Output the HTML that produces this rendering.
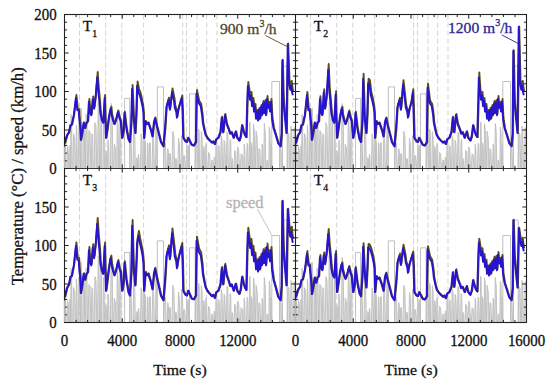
<!DOCTYPE html>
<html><head><meta charset="utf-8"><style>
html,body{margin:0;padding:0;background:#fff;width:550px;height:387px;overflow:hidden}
svg{display:block}
text{font-family:"Liberation Serif",serif;stroke-width:0.3px;paint-order:stroke}
</style></head><body>
<svg width="550" height="387" viewBox="0 0 550 387" font-family="Liberation Serif, serif">
<path d="M64.5 168.5 L64.5 168.5 L65.0 143.9 L65.7 148.5 L66.2 168.5 L67.1 168.5 L67.1 168.5 L67.6 146.3 L68.3 150.5 L68.8 168.5 L69.6 168.5 L69.6 168.5 L69.9 145.4 L70.2 146.2 L70.5 168.5 L70.9 168.5 L70.5 168.5 L71.0 114.4 L71.6 118.9 L72.1 168.5 L72.8 168.5 L72.8 168.5 L73.6 133.7 L74.7 138.6 L75.5 168.5 L76.0 168.5 L76.0 168.5 L76.4 125.0 L76.9 132.1 L77.3 168.5 L78.2 168.5 L78.2 168.5 L78.9 122.8 L79.8 131.4 L80.5 168.5 L80.8 168.5 L80.5 168.5 L81.0 108.1 L81.6 116.4 L82.0 168.5 L82.9 168.5 L82.9 168.5 L83.5 123.3 L84.3 126.0 L84.8 168.5 L85.4 168.5 L85.4 168.5 L86.0 114.3 L86.9 117.2 L87.5 168.5 L88.1 168.5 L88.1 168.5 L88.9 130.5 L90.0 132.4 L90.9 168.5 L91.3 168.5 L91.3 168.5 L91.9 133.7 L92.7 135.3 L93.3 168.5 L94.2 168.5 L94.2 168.5 L94.9 122.7 L96.0 126.4 L96.8 168.5 L97.6 168.5 L97.6 168.5 L98.2 101.7 L99.0 108.7 L99.6 168.5 L100.5 168.5 L100.5 168.5 L100.9 110.2 L101.4 110.3 L101.8 168.5 L102.9 168.5 L102.9 168.5 L103.4 123.4 L104.1 132.2 L104.6 168.5 L105.3 168.5 L105.3 168.5 L105.8 150.5 L106.4 153.6 L106.8 168.5 L107.4 168.5 L107.4 168.5 L107.9 140.1 L108.6 142.7 L109.2 168.5 L110.4 168.5 L110.4 168.5 L111.1 103.5 L112.1 111.1 L112.9 168.5 L113.5 168.5 L113.5 168.5 L114.3 144.2 L115.4 147.9 L116.1 168.5 L116.7 168.5 L116.7 168.5 L117.3 114.9 L118.1 125.6 L118.7 168.5 L119.4 168.5 L119.4 168.5 L119.9 115.8 L120.6 119.1 L121.2 168.5 L122.0 168.5 L129.6 168.5 L130.3 137.5 L131.1 138.9 L131.8 168.5 L133.0 168.5 L133.0 168.5 L133.7 124.7 L134.7 132.6 L135.4 168.5 L136.4 168.5 L136.4 168.5 L136.8 157.5 L137.3 158.9 L137.7 168.5 L138.0 168.5 L138.0 168.5 L138.4 154.3 L138.9 157.0 L139.2 168.5 L140.4 168.5 L140.4 168.5 L141.1 133.8 L141.9 138.4 L142.6 168.5 L143.2 168.5 L143.2 168.5 L143.6 107.6 L144.1 114.1 L144.5 168.5 L145.3 168.5 L144.5 168.5 L144.9 140.2 L145.4 144.3 L145.8 168.5 L147.0 168.5 L147.0 168.5 L147.4 142.8 L148.0 145.2 L148.4 168.5 L148.9 168.5 L148.9 168.5 L149.5 142.7 L150.3 142.8 L150.9 168.5 L152.1 168.5 L152.1 168.5 L152.8 134.9 L153.7 140.5 L154.4 168.5 L155.5 168.5 L155.5 168.5 L156.0 117.6 L156.8 125.5 L157.3 168.5 L158.4 168.5 L163.5 168.5 L164.3 142.2 L165.4 143.2 L166.3 168.5 L167.3 168.5 L167.3 168.5 L167.8 148.6 L168.4 152.5 L168.9 168.5 L169.2 168.5 L169.2 168.5 L169.7 153.6 L170.4 153.7 L170.9 168.5 L171.6 168.5 L172.0 168.5 L172.8 131.3 L173.9 136.1 L174.7 168.5 L175.2 168.5 L175.2 168.5 L175.7 158.4 L176.3 158.6 L176.8 168.5 L177.9 168.5 L177.9 168.5 L178.5 138.3 L179.3 143.8 L179.9 168.5 L180.9 168.5 L180.9 168.5 L181.5 135.6 L182.4 139.0 L183.0 168.5 L183.5 168.5 L183.0 168.5 L183.7 155.8 L184.7 155.8 L185.5 168.5 L186.2 168.5 L186.2 168.5 L186.7 144.5 L187.4 148.5 L188.0 168.5 L188.4 168.5 L188.4 168.5 L188.7 145.3 L189.2 149.3 L189.5 168.5 L190.6 168.5 L195.1 168.5 L195.9 136.6 L197.0 139.4 L197.9 168.5 L198.3 168.5 L198.3 168.5 L198.7 129.3 L199.2 133.0 L199.5 168.5 L200.8 168.5 L200.8 168.5 L201.3 131.6 L202.1 137.4 L202.6 168.5 L203.2 168.5 L203.2 168.5 L203.7 146.3 L204.4 149.6 L204.9 168.5 L205.6 168.5 L205.5 168.5 L205.9 143.5 L206.5 146.2 L206.9 168.5 L207.8 168.5 L207.8 168.5 L208.6 152.5 L209.6 154.1 L210.4 168.5 L211.3 168.5 L211.3 168.5 L211.9 159.8 L212.7 161.3 L213.3 168.5 L213.6 168.5 L213.6 168.5 L214.2 157.0 L214.9 157.7 L215.5 168.5 L216.4 168.5 L215.5 168.5 L216.0 140.3 L216.7 141.5 L217.2 168.5 L217.6 168.5 L217.6 168.5 L218.3 145.5 L219.1 146.5 L219.7 168.5 L220.5 168.5 L220.5 168.5 L221.2 135.7 L222.0 139.3 L222.6 168.5 L223.5 168.5 L223.5 168.5 L224.1 140.4 L224.9 143.5 L225.6 168.5 L226.4 168.5 L226.4 168.5 L227.0 132.2 L227.8 133.1 L228.4 168.5 L229.6 168.5 L229.6 168.5 L230.1 139.5 L230.7 140.4 L231.2 168.5 L231.6 168.5 L231.6 168.5 L232.1 158.5 L232.6 160.4 L233.0 168.5 L234.0 168.5 L234.0 168.5 L234.7 150.2 L235.7 151.5 L236.5 168.5 L236.9 168.5 L236.9 168.5 L237.7 146.9 L238.7 149.5 L239.5 168.5 L240.3 168.5 L240.3 168.5 L241.1 153.8 L242.3 155.2 L243.1 168.5 L243.7 168.5 L243.7 168.5 L244.2 144.1 L244.8 148.9 L245.2 168.5 L246.1 168.5 L246.5 168.5 L247.1 143.2 L247.8 145.1 L248.4 168.5 L249.2 168.5 L249.2 168.5 L249.6 122.3 L250.1 122.5 L250.5 168.5 L250.9 168.5 L250.9 168.5 L251.4 142.7 L252.1 146.5 L252.5 168.5 L253.0 168.5 L253.0 168.5 L253.5 123.8 L254.3 130.5 L254.9 168.5 L255.3 168.5 L255.3 168.5 L256.1 131.2 L257.2 138.0 L258.0 168.5 L258.3 168.5 L258.3 168.5 L259.0 148.6 L259.9 150.1 L260.6 168.5 L261.7 168.5 L261.7 168.5 L262.1 144.2 L262.7 146.9 L263.1 168.5 L263.7 168.5 L263.7 168.5 L264.3 123.5 L265.2 131.4 L265.8 168.5 L266.6 168.5 L266.6 168.5 L267.1 159.9 L267.7 161.3 L268.2 168.5 L268.8 168.5 L268.8 168.5 L269.3 127.1 L270.0 131.3 L270.5 168.5 L271.0 168.5 L271.0 168.5 L271.2 143.2 L271.6 148.1 L271.8 168.5 L272.8 168.5 L279.5 168.5 L280.1 147.1 L281.0 147.4 L281.6 168.5 L282.0 168.5 L287.2 168.5 L288.0 132.8 L289.0 134.0 L289.7 168.5 L290.4 168.5 L290.4 168.5 L291.0 126.4 L291.8 131.9 L292.4 168.5 L293.5 168.5 L293.5 168.5 L294.1 127.7 L294.9 133.0 L295.5 168.5 L295.9 168.5" fill="#dcdcdc" stroke="#bdbdbd" stroke-width="0.9" stroke-linejoin="round"/>
<path d="M124.6 168.5V98.4H129.6V168.5 M157.3 168.5V86.9H163.5V168.5 M189.5 168.5V93.8H195.1V168.5 M271.8 168.5V81.5H279.5V168.5 M282.5 168.5V66.1H287.2V168.5" fill="none" stroke="#c0c0c0" stroke-width="1"/>
<path d="M295.5 168.5 L295.5 168.5 L296.0 143.9 L296.7 148.5 L297.2 168.5 L298.1 168.5 L298.1 168.5 L298.6 146.3 L299.3 150.5 L299.8 168.5 L300.6 168.5 L300.6 168.5 L300.9 145.4 L301.2 146.2 L301.5 168.5 L301.9 168.5 L301.5 168.5 L302.0 114.4 L302.6 118.9 L303.1 168.5 L303.8 168.5 L303.8 168.5 L304.6 133.7 L305.7 138.6 L306.5 168.5 L307.0 168.5 L307.0 168.5 L307.4 125.0 L307.9 132.1 L308.3 168.5 L309.2 168.5 L309.2 168.5 L309.9 122.8 L310.8 131.4 L311.5 168.5 L311.8 168.5 L311.5 168.5 L312.0 108.1 L312.6 116.4 L313.0 168.5 L313.9 168.5 L313.9 168.5 L314.5 123.3 L315.3 126.0 L315.8 168.5 L316.4 168.5 L316.4 168.5 L317.0 114.3 L317.9 117.2 L318.5 168.5 L319.1 168.5 L319.1 168.5 L319.9 130.5 L321.0 132.4 L321.9 168.5 L322.3 168.5 L322.3 168.5 L322.9 133.7 L323.7 135.3 L324.3 168.5 L325.2 168.5 L325.2 168.5 L325.9 122.7 L327.0 126.4 L327.8 168.5 L328.6 168.5 L328.6 168.5 L329.2 101.7 L330.0 108.7 L330.6 168.5 L331.5 168.5 L331.5 168.5 L331.9 110.2 L332.4 110.3 L332.8 168.5 L333.9 168.5 L333.9 168.5 L334.4 123.4 L335.1 132.2 L335.6 168.5 L336.3 168.5 L336.3 168.5 L336.8 150.5 L337.4 153.6 L337.8 168.5 L338.4 168.5 L338.4 168.5 L338.9 140.1 L339.6 142.7 L340.2 168.5 L341.4 168.5 L341.4 168.5 L342.1 103.5 L343.1 111.1 L343.9 168.5 L344.5 168.5 L344.5 168.5 L345.3 144.2 L346.4 147.9 L347.1 168.5 L347.7 168.5 L347.7 168.5 L348.3 114.9 L349.1 125.6 L349.7 168.5 L350.4 168.5 L350.4 168.5 L350.9 115.8 L351.6 119.1 L352.2 168.5 L353.0 168.5 L360.6 168.5 L361.3 137.5 L362.1 138.9 L362.8 168.5 L364.0 168.5 L364.0 168.5 L364.7 124.7 L365.7 132.6 L366.4 168.5 L367.4 168.5 L367.4 168.5 L367.8 157.5 L368.3 158.9 L368.7 168.5 L369.0 168.5 L369.0 168.5 L369.4 154.3 L369.9 157.0 L370.2 168.5 L371.4 168.5 L371.4 168.5 L372.1 133.8 L372.9 138.4 L373.6 168.5 L374.2 168.5 L374.2 168.5 L374.6 107.6 L375.1 114.1 L375.5 168.5 L376.3 168.5 L375.5 168.5 L375.9 140.2 L376.4 144.3 L376.8 168.5 L378.0 168.5 L378.0 168.5 L378.4 142.8 L379.0 145.2 L379.4 168.5 L379.9 168.5 L379.9 168.5 L380.5 142.7 L381.3 142.8 L381.9 168.5 L383.1 168.5 L383.1 168.5 L383.8 134.9 L384.7 140.5 L385.4 168.5 L386.5 168.5 L386.5 168.5 L387.0 117.6 L387.8 125.5 L388.3 168.5 L389.4 168.5 L394.5 168.5 L395.3 142.2 L396.4 143.2 L397.3 168.5 L398.3 168.5 L398.3 168.5 L398.8 148.6 L399.4 152.5 L399.9 168.5 L400.2 168.5 L400.2 168.5 L400.7 153.6 L401.4 153.7 L401.9 168.5 L402.6 168.5 L403.0 168.5 L403.8 131.3 L404.9 136.1 L405.7 168.5 L406.2 168.5 L406.2 168.5 L406.7 158.4 L407.3 158.6 L407.8 168.5 L408.9 168.5 L408.9 168.5 L409.5 138.3 L410.3 143.8 L410.9 168.5 L411.9 168.5 L411.9 168.5 L412.5 135.6 L413.4 139.0 L414.0 168.5 L414.5 168.5 L414.0 168.5 L414.7 155.8 L415.7 155.8 L416.5 168.5 L417.2 168.5 L417.2 168.5 L417.7 144.5 L418.4 148.5 L419.0 168.5 L419.4 168.5 L419.4 168.5 L419.7 145.3 L420.2 149.3 L420.5 168.5 L421.6 168.5 L426.1 168.5 L426.9 136.6 L428.0 139.4 L428.9 168.5 L429.3 168.5 L429.3 168.5 L429.7 129.3 L430.2 133.0 L430.5 168.5 L431.8 168.5 L431.8 168.5 L432.3 131.6 L433.1 137.4 L433.6 168.5 L434.2 168.5 L434.2 168.5 L434.7 146.3 L435.4 149.6 L435.9 168.5 L436.6 168.5 L436.5 168.5 L436.9 143.5 L437.5 146.2 L437.9 168.5 L438.8 168.5 L438.8 168.5 L439.6 152.5 L440.6 154.1 L441.4 168.5 L442.3 168.5 L442.3 168.5 L442.9 159.8 L443.7 161.3 L444.3 168.5 L444.6 168.5 L444.6 168.5 L445.2 157.0 L445.9 157.7 L446.5 168.5 L447.4 168.5 L446.5 168.5 L447.0 140.3 L447.7 141.5 L448.2 168.5 L448.6 168.5 L448.6 168.5 L449.3 145.5 L450.1 146.5 L450.7 168.5 L451.5 168.5 L451.5 168.5 L452.2 135.7 L453.0 139.3 L453.6 168.5 L454.5 168.5 L454.5 168.5 L455.1 140.4 L455.9 143.5 L456.6 168.5 L457.4 168.5 L457.4 168.5 L458.0 132.2 L458.8 133.1 L459.4 168.5 L460.6 168.5 L460.6 168.5 L461.1 139.5 L461.7 140.4 L462.2 168.5 L462.6 168.5 L462.6 168.5 L463.1 158.5 L463.6 160.4 L464.0 168.5 L465.0 168.5 L465.0 168.5 L465.7 150.2 L466.7 151.5 L467.5 168.5 L467.9 168.5 L467.9 168.5 L468.7 146.9 L469.7 149.5 L470.5 168.5 L471.3 168.5 L471.3 168.5 L472.1 153.8 L473.3 155.2 L474.1 168.5 L474.7 168.5 L474.7 168.5 L475.2 144.1 L475.8 148.9 L476.2 168.5 L477.1 168.5 L477.5 168.5 L478.1 143.2 L478.8 145.1 L479.4 168.5 L480.2 168.5 L480.2 168.5 L480.6 122.3 L481.1 122.5 L481.5 168.5 L481.9 168.5 L481.9 168.5 L482.4 142.7 L483.1 146.5 L483.5 168.5 L484.0 168.5 L484.0 168.5 L484.5 123.8 L485.3 130.5 L485.9 168.5 L486.3 168.5 L486.3 168.5 L487.1 131.2 L488.2 138.0 L489.0 168.5 L489.3 168.5 L489.3 168.5 L490.0 148.6 L490.9 150.1 L491.6 168.5 L492.7 168.5 L492.7 168.5 L493.1 144.2 L493.7 146.9 L494.1 168.5 L494.7 168.5 L494.7 168.5 L495.3 123.5 L496.2 131.4 L496.8 168.5 L497.6 168.5 L497.6 168.5 L498.1 159.9 L498.7 161.3 L499.2 168.5 L499.8 168.5 L499.8 168.5 L500.3 127.1 L501.0 131.3 L501.5 168.5 L502.0 168.5 L502.0 168.5 L502.2 143.2 L502.6 148.1 L502.8 168.5 L503.8 168.5 L510.5 168.5 L511.1 147.1 L512.0 147.4 L512.6 168.5 L513.0 168.5 L518.2 168.5 L519.0 132.8 L520.0 134.0 L520.7 168.5 L521.4 168.5 L521.4 168.5 L522.0 126.4 L522.8 131.9 L523.4 168.5 L524.5 168.5 L524.5 168.5 L525.1 127.7 L525.9 133.0 L526.5 168.5 L526.9 168.5" fill="#dcdcdc" stroke="#bdbdbd" stroke-width="0.9" stroke-linejoin="round"/>
<path d="M355.6 168.5V98.4H360.6V168.5 M388.3 168.5V86.9H394.5V168.5 M420.5 168.5V93.8H426.1V168.5 M502.8 168.5V81.5H510.5V168.5 M513.5 168.5V66.1H518.2V168.5" fill="none" stroke="#c0c0c0" stroke-width="1"/>
<path d="M64.5 322.5 L64.5 322.5 L65.0 297.9 L65.7 302.5 L66.2 322.5 L67.1 322.5 L67.1 322.5 L67.6 300.3 L68.3 304.5 L68.8 322.5 L69.6 322.5 L69.6 322.5 L69.9 299.4 L70.2 300.2 L70.5 322.5 L70.9 322.5 L70.5 322.5 L71.0 268.4 L71.6 272.9 L72.1 322.5 L72.8 322.5 L72.8 322.5 L73.6 287.7 L74.7 292.6 L75.5 322.5 L76.0 322.5 L76.0 322.5 L76.4 279.0 L76.9 286.1 L77.3 322.5 L78.2 322.5 L78.2 322.5 L78.9 276.8 L79.8 285.4 L80.5 322.5 L80.8 322.5 L80.5 322.5 L81.0 262.1 L81.6 270.4 L82.0 322.5 L82.9 322.5 L82.9 322.5 L83.5 277.3 L84.3 280.0 L84.8 322.5 L85.4 322.5 L85.4 322.5 L86.0 268.3 L86.9 271.2 L87.5 322.5 L88.1 322.5 L88.1 322.5 L88.9 284.5 L90.0 286.4 L90.9 322.5 L91.3 322.5 L91.3 322.5 L91.9 287.7 L92.7 289.3 L93.3 322.5 L94.2 322.5 L94.2 322.5 L94.9 276.7 L96.0 280.4 L96.8 322.5 L97.6 322.5 L97.6 322.5 L98.2 255.7 L99.0 262.7 L99.6 322.5 L100.5 322.5 L100.5 322.5 L100.9 264.2 L101.4 264.3 L101.8 322.5 L102.9 322.5 L102.9 322.5 L103.4 277.4 L104.1 286.2 L104.6 322.5 L105.3 322.5 L105.3 322.5 L105.8 304.5 L106.4 307.6 L106.8 322.5 L107.4 322.5 L107.4 322.5 L107.9 294.1 L108.6 296.7 L109.2 322.5 L110.4 322.5 L110.4 322.5 L111.1 257.5 L112.1 265.1 L112.9 322.5 L113.5 322.5 L113.5 322.5 L114.3 298.2 L115.4 301.9 L116.1 322.5 L116.7 322.5 L116.7 322.5 L117.3 268.9 L118.1 279.6 L118.7 322.5 L119.4 322.5 L119.4 322.5 L119.9 269.8 L120.6 273.1 L121.2 322.5 L122.0 322.5 L129.6 322.5 L130.3 291.5 L131.1 292.9 L131.8 322.5 L133.0 322.5 L133.0 322.5 L133.7 278.7 L134.7 286.6 L135.4 322.5 L136.4 322.5 L136.4 322.5 L136.8 311.5 L137.3 312.9 L137.7 322.5 L138.0 322.5 L138.0 322.5 L138.4 308.3 L138.9 311.0 L139.2 322.5 L140.4 322.5 L140.4 322.5 L141.1 287.8 L141.9 292.4 L142.6 322.5 L143.2 322.5 L143.2 322.5 L143.6 261.6 L144.1 268.1 L144.5 322.5 L145.3 322.5 L144.5 322.5 L144.9 294.2 L145.4 298.3 L145.8 322.5 L147.0 322.5 L147.0 322.5 L147.4 296.8 L148.0 299.2 L148.4 322.5 L148.9 322.5 L148.9 322.5 L149.5 296.7 L150.3 296.8 L150.9 322.5 L152.1 322.5 L152.1 322.5 L152.8 288.9 L153.7 294.5 L154.4 322.5 L155.5 322.5 L155.5 322.5 L156.0 271.6 L156.8 279.5 L157.3 322.5 L158.4 322.5 L163.5 322.5 L164.3 296.2 L165.4 297.2 L166.3 322.5 L167.3 322.5 L167.3 322.5 L167.8 302.6 L168.4 306.5 L168.9 322.5 L169.2 322.5 L169.2 322.5 L169.7 307.6 L170.4 307.7 L170.9 322.5 L171.6 322.5 L172.0 322.5 L172.8 285.3 L173.9 290.1 L174.7 322.5 L175.2 322.5 L175.2 322.5 L175.7 312.4 L176.3 312.6 L176.8 322.5 L177.9 322.5 L177.9 322.5 L178.5 292.3 L179.3 297.8 L179.9 322.5 L180.9 322.5 L180.9 322.5 L181.5 289.6 L182.4 293.0 L183.0 322.5 L183.5 322.5 L183.0 322.5 L183.7 309.8 L184.7 309.8 L185.5 322.5 L186.2 322.5 L186.2 322.5 L186.7 298.5 L187.4 302.5 L188.0 322.5 L188.4 322.5 L188.4 322.5 L188.7 299.3 L189.2 303.3 L189.5 322.5 L190.6 322.5 L195.1 322.5 L195.9 290.6 L197.0 293.4 L197.9 322.5 L198.3 322.5 L198.3 322.5 L198.7 283.3 L199.2 287.0 L199.5 322.5 L200.8 322.5 L200.8 322.5 L201.3 285.6 L202.1 291.4 L202.6 322.5 L203.2 322.5 L203.2 322.5 L203.7 300.3 L204.4 303.6 L204.9 322.5 L205.6 322.5 L205.5 322.5 L205.9 297.5 L206.5 300.2 L206.9 322.5 L207.8 322.5 L207.8 322.5 L208.6 306.5 L209.6 308.1 L210.4 322.5 L211.3 322.5 L211.3 322.5 L211.9 313.8 L212.7 315.3 L213.3 322.5 L213.6 322.5 L213.6 322.5 L214.2 311.0 L214.9 311.7 L215.5 322.5 L216.4 322.5 L215.5 322.5 L216.0 294.3 L216.7 295.5 L217.2 322.5 L217.6 322.5 L217.6 322.5 L218.3 299.5 L219.1 300.5 L219.7 322.5 L220.5 322.5 L220.5 322.5 L221.2 289.7 L222.0 293.3 L222.6 322.5 L223.5 322.5 L223.5 322.5 L224.1 294.4 L224.9 297.5 L225.6 322.5 L226.4 322.5 L226.4 322.5 L227.0 286.2 L227.8 287.1 L228.4 322.5 L229.6 322.5 L229.6 322.5 L230.1 293.5 L230.7 294.4 L231.2 322.5 L231.6 322.5 L231.6 322.5 L232.1 312.5 L232.6 314.4 L233.0 322.5 L234.0 322.5 L234.0 322.5 L234.7 304.2 L235.7 305.5 L236.5 322.5 L236.9 322.5 L236.9 322.5 L237.7 300.9 L238.7 303.5 L239.5 322.5 L240.3 322.5 L240.3 322.5 L241.1 307.8 L242.3 309.2 L243.1 322.5 L243.7 322.5 L243.7 322.5 L244.2 298.1 L244.8 302.9 L245.2 322.5 L246.1 322.5 L246.5 322.5 L247.1 297.2 L247.8 299.1 L248.4 322.5 L249.2 322.5 L249.2 322.5 L249.6 276.3 L250.1 276.5 L250.5 322.5 L250.9 322.5 L250.9 322.5 L251.4 296.7 L252.1 300.5 L252.5 322.5 L253.0 322.5 L253.0 322.5 L253.5 277.8 L254.3 284.5 L254.9 322.5 L255.3 322.5 L255.3 322.5 L256.1 285.2 L257.2 292.0 L258.0 322.5 L258.3 322.5 L258.3 322.5 L259.0 302.6 L259.9 304.1 L260.6 322.5 L261.7 322.5 L261.7 322.5 L262.1 298.2 L262.7 300.9 L263.1 322.5 L263.7 322.5 L263.7 322.5 L264.3 277.5 L265.2 285.4 L265.8 322.5 L266.6 322.5 L266.6 322.5 L267.1 313.9 L267.7 315.3 L268.2 322.5 L268.8 322.5 L268.8 322.5 L269.3 281.1 L270.0 285.3 L270.5 322.5 L271.0 322.5 L271.0 322.5 L271.2 297.2 L271.6 302.1 L271.8 322.5 L272.8 322.5 L279.5 322.5 L280.1 301.1 L281.0 301.4 L281.6 322.5 L282.0 322.5 L287.2 322.5 L288.0 286.8 L289.0 288.0 L289.7 322.5 L290.4 322.5 L290.4 322.5 L291.0 280.4 L291.8 285.9 L292.4 322.5 L293.5 322.5 L293.5 322.5 L294.1 281.7 L294.9 287.0 L295.5 322.5 L295.9 322.5" fill="#dcdcdc" stroke="#bdbdbd" stroke-width="0.9" stroke-linejoin="round"/>
<path d="M124.6 322.5V252.4H129.6V322.5 M157.3 322.5V240.9H163.5V322.5 M189.5 322.5V247.8H195.1V322.5 M271.8 322.5V235.5H279.5V322.5 M282.5 322.5V220.1H287.2V322.5" fill="none" stroke="#c0c0c0" stroke-width="1"/>
<path d="M295.5 322.5 L295.5 322.5 L296.0 297.9 L296.7 302.5 L297.2 322.5 L298.1 322.5 L298.1 322.5 L298.6 300.3 L299.3 304.5 L299.8 322.5 L300.6 322.5 L300.6 322.5 L300.9 299.4 L301.2 300.2 L301.5 322.5 L301.9 322.5 L301.5 322.5 L302.0 268.4 L302.6 272.9 L303.1 322.5 L303.8 322.5 L303.8 322.5 L304.6 287.7 L305.7 292.6 L306.5 322.5 L307.0 322.5 L307.0 322.5 L307.4 279.0 L307.9 286.1 L308.3 322.5 L309.2 322.5 L309.2 322.5 L309.9 276.8 L310.8 285.4 L311.5 322.5 L311.8 322.5 L311.5 322.5 L312.0 262.1 L312.6 270.4 L313.0 322.5 L313.9 322.5 L313.9 322.5 L314.5 277.3 L315.3 280.0 L315.8 322.5 L316.4 322.5 L316.4 322.5 L317.0 268.3 L317.9 271.2 L318.5 322.5 L319.1 322.5 L319.1 322.5 L319.9 284.5 L321.0 286.4 L321.9 322.5 L322.3 322.5 L322.3 322.5 L322.9 287.7 L323.7 289.3 L324.3 322.5 L325.2 322.5 L325.2 322.5 L325.9 276.7 L327.0 280.4 L327.8 322.5 L328.6 322.5 L328.6 322.5 L329.2 255.7 L330.0 262.7 L330.6 322.5 L331.5 322.5 L331.5 322.5 L331.9 264.2 L332.4 264.3 L332.8 322.5 L333.9 322.5 L333.9 322.5 L334.4 277.4 L335.1 286.2 L335.6 322.5 L336.3 322.5 L336.3 322.5 L336.8 304.5 L337.4 307.6 L337.8 322.5 L338.4 322.5 L338.4 322.5 L338.9 294.1 L339.6 296.7 L340.2 322.5 L341.4 322.5 L341.4 322.5 L342.1 257.5 L343.1 265.1 L343.9 322.5 L344.5 322.5 L344.5 322.5 L345.3 298.2 L346.4 301.9 L347.1 322.5 L347.7 322.5 L347.7 322.5 L348.3 268.9 L349.1 279.6 L349.7 322.5 L350.4 322.5 L350.4 322.5 L350.9 269.8 L351.6 273.1 L352.2 322.5 L353.0 322.5 L360.6 322.5 L361.3 291.5 L362.1 292.9 L362.8 322.5 L364.0 322.5 L364.0 322.5 L364.7 278.7 L365.7 286.6 L366.4 322.5 L367.4 322.5 L367.4 322.5 L367.8 311.5 L368.3 312.9 L368.7 322.5 L369.0 322.5 L369.0 322.5 L369.4 308.3 L369.9 311.0 L370.2 322.5 L371.4 322.5 L371.4 322.5 L372.1 287.8 L372.9 292.4 L373.6 322.5 L374.2 322.5 L374.2 322.5 L374.6 261.6 L375.1 268.1 L375.5 322.5 L376.3 322.5 L375.5 322.5 L375.9 294.2 L376.4 298.3 L376.8 322.5 L378.0 322.5 L378.0 322.5 L378.4 296.8 L379.0 299.2 L379.4 322.5 L379.9 322.5 L379.9 322.5 L380.5 296.7 L381.3 296.8 L381.9 322.5 L383.1 322.5 L383.1 322.5 L383.8 288.9 L384.7 294.5 L385.4 322.5 L386.5 322.5 L386.5 322.5 L387.0 271.6 L387.8 279.5 L388.3 322.5 L389.4 322.5 L394.5 322.5 L395.3 296.2 L396.4 297.2 L397.3 322.5 L398.3 322.5 L398.3 322.5 L398.8 302.6 L399.4 306.5 L399.9 322.5 L400.2 322.5 L400.2 322.5 L400.7 307.6 L401.4 307.7 L401.9 322.5 L402.6 322.5 L403.0 322.5 L403.8 285.3 L404.9 290.1 L405.7 322.5 L406.2 322.5 L406.2 322.5 L406.7 312.4 L407.3 312.6 L407.8 322.5 L408.9 322.5 L408.9 322.5 L409.5 292.3 L410.3 297.8 L410.9 322.5 L411.9 322.5 L411.9 322.5 L412.5 289.6 L413.4 293.0 L414.0 322.5 L414.5 322.5 L414.0 322.5 L414.7 309.8 L415.7 309.8 L416.5 322.5 L417.2 322.5 L417.2 322.5 L417.7 298.5 L418.4 302.5 L419.0 322.5 L419.4 322.5 L419.4 322.5 L419.7 299.3 L420.2 303.3 L420.5 322.5 L421.6 322.5 L426.1 322.5 L426.9 290.6 L428.0 293.4 L428.9 322.5 L429.3 322.5 L429.3 322.5 L429.7 283.3 L430.2 287.0 L430.5 322.5 L431.8 322.5 L431.8 322.5 L432.3 285.6 L433.1 291.4 L433.6 322.5 L434.2 322.5 L434.2 322.5 L434.7 300.3 L435.4 303.6 L435.9 322.5 L436.6 322.5 L436.5 322.5 L436.9 297.5 L437.5 300.2 L437.9 322.5 L438.8 322.5 L438.8 322.5 L439.6 306.5 L440.6 308.1 L441.4 322.5 L442.3 322.5 L442.3 322.5 L442.9 313.8 L443.7 315.3 L444.3 322.5 L444.6 322.5 L444.6 322.5 L445.2 311.0 L445.9 311.7 L446.5 322.5 L447.4 322.5 L446.5 322.5 L447.0 294.3 L447.7 295.5 L448.2 322.5 L448.6 322.5 L448.6 322.5 L449.3 299.5 L450.1 300.5 L450.7 322.5 L451.5 322.5 L451.5 322.5 L452.2 289.7 L453.0 293.3 L453.6 322.5 L454.5 322.5 L454.5 322.5 L455.1 294.4 L455.9 297.5 L456.6 322.5 L457.4 322.5 L457.4 322.5 L458.0 286.2 L458.8 287.1 L459.4 322.5 L460.6 322.5 L460.6 322.5 L461.1 293.5 L461.7 294.4 L462.2 322.5 L462.6 322.5 L462.6 322.5 L463.1 312.5 L463.6 314.4 L464.0 322.5 L465.0 322.5 L465.0 322.5 L465.7 304.2 L466.7 305.5 L467.5 322.5 L467.9 322.5 L467.9 322.5 L468.7 300.9 L469.7 303.5 L470.5 322.5 L471.3 322.5 L471.3 322.5 L472.1 307.8 L473.3 309.2 L474.1 322.5 L474.7 322.5 L474.7 322.5 L475.2 298.1 L475.8 302.9 L476.2 322.5 L477.1 322.5 L477.5 322.5 L478.1 297.2 L478.8 299.1 L479.4 322.5 L480.2 322.5 L480.2 322.5 L480.6 276.3 L481.1 276.5 L481.5 322.5 L481.9 322.5 L481.9 322.5 L482.4 296.7 L483.1 300.5 L483.5 322.5 L484.0 322.5 L484.0 322.5 L484.5 277.8 L485.3 284.5 L485.9 322.5 L486.3 322.5 L486.3 322.5 L487.1 285.2 L488.2 292.0 L489.0 322.5 L489.3 322.5 L489.3 322.5 L490.0 302.6 L490.9 304.1 L491.6 322.5 L492.7 322.5 L492.7 322.5 L493.1 298.2 L493.7 300.9 L494.1 322.5 L494.7 322.5 L494.7 322.5 L495.3 277.5 L496.2 285.4 L496.8 322.5 L497.6 322.5 L497.6 322.5 L498.1 313.9 L498.7 315.3 L499.2 322.5 L499.8 322.5 L499.8 322.5 L500.3 281.1 L501.0 285.3 L501.5 322.5 L502.0 322.5 L502.0 322.5 L502.2 297.2 L502.6 302.1 L502.8 322.5 L503.8 322.5 L510.5 322.5 L511.1 301.1 L512.0 301.4 L512.6 322.5 L513.0 322.5 L518.2 322.5 L519.0 286.8 L520.0 288.0 L520.7 322.5 L521.4 322.5 L521.4 322.5 L522.0 280.4 L522.8 285.9 L523.4 322.5 L524.5 322.5 L524.5 322.5 L525.1 281.7 L525.9 287.0 L526.5 322.5 L526.9 322.5" fill="#dcdcdc" stroke="#bdbdbd" stroke-width="0.9" stroke-linejoin="round"/>
<path d="M355.6 322.5V252.4H360.6V322.5 M388.3 322.5V240.9H394.5V322.5 M420.5 322.5V247.8H426.1V322.5 M502.8 322.5V235.5H510.5V322.5 M513.5 322.5V220.1H518.2V322.5" fill="none" stroke="#c0c0c0" stroke-width="1"/>
<path d="M79.5 14.5V322.5 M105.7 14.5V322.5 M121.8 14.5V322.5 M143.6 14.5V322.5 M182.6 14.5V322.5 M186.5 14.5V322.5 M197.0 14.5V322.5 M206.7 14.5V322.5 M217.0 14.5V322.5 M310.5 14.5V322.5 M336.7 14.5V322.5 M352.8 14.5V322.5 M374.6 14.5V322.5 M413.6 14.5V322.5 M417.5 14.5V322.5 M428.0 14.5V322.5 M437.7 14.5V322.5 M448.0 14.5V322.5" stroke="#c8c8c8" stroke-width="0.8" stroke-dasharray="5 3" fill="none"/>
<path d="M65.2 143.5 L67.3 135.5 L69.4 132.2 L70.8 125.2 L72.2 124.5 L74.3 114.0 L76.4 95.0 L77.8 108.4 L79.2 109.0 L79.9 119.6 L80.6 125.2 L81.3 139.9 L82.7 132.2 L84.1 122.4 L85.5 128.0 L86.9 122.4 L88.3 121.0 L89.4 99.0 L90.4 111.2 L91.8 114.0 L93.2 96.5 L94.6 107.0 L96.0 95.0 L97.7 72.0 L98.8 88.0 L100.0 100.0 L100.9 112.6 L102.3 119.6 L103.7 122.4 L105.1 95.0 L105.8 120.0 L106.5 137.8 L107.9 128.0 L109.3 116.8 L110.7 108.4 L111.4 106.7 L112.1 114.0 L113.5 119.6 L114.9 123.8 L116.3 119.6 L118.4 110.5 L119.8 116.8 L121.2 121.0 L122.6 137.8 L124.0 130.8 L124.9 111.6 L126.8 128.0 L128.9 139.2 L130.3 142.0 L131.7 121.0 L132.6 85.0 L134.0 116.8 L135.7 133.0 L136.7 114.0 L137.6 81.5 L138.9 88.5 L140.3 92.0 L141.7 97.6 L143.1 104.6 L143.9 112.0 L144.5 137.8 L145.9 121.0 L147.3 123.8 L148.7 122.4 L150.1 126.6 L151.5 130.8 L152.9 136.4 L154.3 122.4 L155.4 117.5 L157.1 125.2 L159.2 133.6 L161.3 142.0 L163.8 146.2 L165.5 128.0 L166.9 105.0 L168.3 100.0 L169.0 97.6 L169.7 104.0 L170.4 108.0 L172.5 88.5 L174.6 99.0 L175.3 105.6 L176.7 110.0 L177.4 116.8 L178.8 108.0 L180.9 100.0 L182.3 95.5 L183.0 110.0 L183.7 137.8 L185.8 141.3 L187.2 142.0 L188.6 137.8 L190.0 140.6 L192.1 144.8 L194.2 145.5 L196.3 142.0 L197.0 89.9 L199.1 100.4 L201.2 104.0 L202.6 114.0 L203.3 122.4 L204.7 129.4 L206.1 135.0 L208.2 138.5 L210.3 140.6 L212.4 142.7 L213.8 141.3 L215.2 144.1 L216.6 139.2 L218.7 137.8 L220.8 132.2 L222.2 116.8 L223.6 132.2 L225.4 114.0 L227.1 123.8 L229.2 129.4 L230.6 133.6 L232.0 132.2 L234.1 137.8 L236.2 131.5 L237.6 137.8 L239.7 140.6 L241.1 136.4 L242.5 125.2 L243.9 130.8 L245.3 135.0 L246.7 137.1 L247.7 100.0 L248.3 82.0 L249.5 90.0 L250.5 97.0 L251.5 92.0 L252.5 104.0 L253.5 98.0 L254.5 110.0 L255.5 104.0 L256.5 118.0 L257.5 110.0 L258.5 120.0 L259.5 108.0 L260.5 118.0 L261.5 105.0 L262.5 114.0 L263.5 101.0 L264.5 112.0 L265.5 100.0 L266.5 114.0 L267.5 96.0 L268.5 106.0 L269.5 102.0 L270.5 110.0 L271.5 99.0 L272.5 118.0 L274.0 128.0 L276.3 135.3 L278.6 143.1 L280.9 146.2 L282.0 133.8 L282.8 59.8 L283.9 99.7 L286.9 133.0 L288.2 43.5 L289.5 80.0 L290.8 86.0 L291.8 81.0 L292.5 88.0 L293.3 92.0" fill="none" stroke="#5e4a1a" stroke-width="1.9" stroke-linejoin="round" />
<path d="M296.2 143.5 L298.3 135.5 L300.4 132.2 L301.8 125.2 L303.2 124.5 L305.3 114.0 L307.4 92.0 L308.8 108.4 L310.2 109.0 L310.9 119.6 L311.6 125.2 L312.3 139.9 L313.7 132.2 L315.1 122.4 L316.5 128.0 L317.9 122.4 L319.3 121.0 L320.4 96.2 L321.4 111.2 L322.8 114.0 L324.2 89.2 L325.6 107.0 L327.0 95.0 L328.7 64.0 L329.8 88.0 L331.0 100.0 L331.9 112.6 L333.3 119.6 L334.7 122.4 L336.1 91.3 L336.8 120.0 L337.5 137.8 L338.9 128.0 L340.3 116.8 L341.7 108.4 L342.4 106.7 L343.1 114.0 L344.5 119.6 L345.9 123.8 L347.3 119.6 L349.4 110.5 L350.8 116.8 L352.2 121.0 L353.6 137.8 L355.0 130.8 L355.9 111.6 L357.8 128.0 L359.9 139.2 L361.3 142.0 L362.7 121.0 L363.6 73.8 L365.0 116.8 L366.7 133.0 L367.7 114.0 L368.6 78.7 L369.9 80.1 L371.3 92.0 L372.7 97.6 L374.1 104.6 L374.9 112.0 L375.5 137.8 L376.9 121.0 L378.3 123.8 L379.7 122.4 L381.1 126.6 L382.5 130.8 L383.9 136.4 L385.3 122.4 L386.4 117.5 L388.1 125.2 L390.2 133.6 L392.3 142.0 L394.8 146.2 L396.5 128.0 L397.9 105.0 L399.3 100.0 L400.0 97.6 L400.7 104.0 L401.4 108.0 L403.5 80.1 L405.6 99.0 L406.3 105.6 L407.7 110.0 L408.4 116.8 L409.8 108.0 L411.9 100.0 L413.3 89.2 L414.0 110.0 L414.7 137.8 L416.8 141.3 L418.2 142.0 L419.6 137.8 L421.0 140.6 L423.1 144.8 L425.2 145.5 L427.3 142.0 L428.0 83.6 L430.1 100.4 L432.2 104.0 L433.6 114.0 L434.3 122.4 L435.7 129.4 L437.1 135.0 L439.2 138.5 L441.3 140.6 L443.4 142.7 L444.8 141.3 L446.2 144.1 L447.6 139.2 L449.7 137.8 L451.8 132.2 L453.2 116.8 L454.6 132.2 L456.4 114.0 L458.1 123.8 L460.2 129.4 L461.6 133.6 L463.0 132.2 L465.1 137.8 L467.2 131.5 L468.6 137.8 L470.7 140.6 L472.1 136.4 L473.5 125.2 L474.9 130.8 L476.3 135.0 L477.7 137.1 L478.7 100.0 L479.3 72.4 L480.5 90.0 L481.5 97.0 L482.5 92.0 L483.5 104.0 L484.5 98.0 L485.5 110.0 L486.5 104.0 L487.5 118.0 L488.5 110.0 L489.5 120.0 L490.5 108.0 L491.5 118.0 L492.5 105.0 L493.5 114.0 L494.5 101.0 L495.5 112.0 L496.5 100.0 L497.5 114.0 L498.5 96.0 L499.5 106.0 L500.5 102.0 L501.5 110.0 L502.5 99.0 L503.5 118.0 L505.0 128.0 L507.3 135.3 L509.6 143.1 L511.9 146.2 L513.0 133.8 L513.8 50.2 L514.9 99.7 L517.9 133.0 L519.2 26.4 L520.5 80.0 L521.8 86.0 L522.8 81.0 L523.5 88.0 L524.3 92.0" fill="none" stroke="#5e4a1a" stroke-width="1.9" stroke-linejoin="round" />
<path d="M65.2 297.2 L67.3 288.1 L69.4 284.4 L70.8 276.5 L72.2 275.7 L74.3 263.8 L76.4 242.4 L77.8 257.5 L79.2 258.2 L79.9 270.2 L80.6 276.5 L81.3 293.1 L82.7 284.4 L84.1 273.3 L85.5 279.7 L86.9 273.3 L88.3 271.8 L89.4 246.9 L90.4 260.7 L91.8 263.8 L93.2 244.1 L94.6 255.9 L96.0 242.4 L97.7 218.0 L98.8 234.5 L100.0 248.0 L100.9 262.3 L102.3 270.2 L103.7 273.3 L105.1 242.4 L105.8 270.6 L106.5 290.7 L107.9 279.7 L109.3 267.0 L110.7 257.5 L111.4 255.6 L112.1 263.8 L113.5 270.2 L114.9 274.9 L116.3 270.2 L118.4 259.9 L119.8 267.0 L121.2 271.8 L122.6 290.7 L124.0 282.8 L124.9 261.1 L126.8 279.7 L128.9 292.3 L130.3 295.5 L131.7 271.8 L132.6 220.0 L134.0 267.0 L135.7 285.3 L136.7 263.8 L137.6 239.0 L138.9 231.0 L140.3 239.0 L141.7 245.3 L143.1 253.2 L143.9 261.6 L144.5 290.7 L145.9 271.8 L147.3 274.9 L148.7 273.3 L150.1 278.1 L151.5 282.8 L152.9 289.2 L154.3 273.3 L155.4 267.8 L157.1 276.5 L159.2 286.0 L161.3 295.5 L163.8 300.2 L165.5 279.7 L166.9 253.7 L168.3 248.0 L169.0 245.3 L169.7 252.5 L170.4 257.1 L172.5 228.5 L174.6 246.9 L175.3 254.3 L176.7 259.3 L177.4 267.0 L178.8 257.1 L180.9 248.0 L182.3 242.9 L183.0 259.3 L183.7 290.7 L185.8 294.7 L187.2 295.5 L188.6 290.7 L190.0 293.9 L192.1 298.6 L194.2 299.4 L196.3 295.5 L197.0 236.6 L199.1 248.5 L201.2 252.5 L202.6 263.8 L203.3 273.3 L204.7 281.2 L206.1 287.6 L208.2 291.5 L210.3 293.9 L212.4 296.3 L213.8 294.7 L215.2 297.9 L216.6 292.3 L218.7 290.7 L220.8 284.4 L222.2 267.0 L223.6 284.4 L225.4 263.8 L227.1 274.9 L229.2 281.2 L230.6 286.0 L232.0 284.4 L234.1 290.7 L236.2 283.6 L237.6 290.7 L239.7 293.9 L241.1 289.2 L242.5 276.5 L243.9 282.8 L245.3 287.6 L246.7 289.9 L247.7 248.0 L248.3 227.7 L249.5 236.7 L250.5 244.6 L251.5 239.0 L252.5 252.5 L253.5 245.8 L254.5 259.3 L255.5 252.5 L256.5 268.4 L257.5 259.3 L258.5 270.6 L259.5 257.1 L260.5 268.4 L261.5 253.7 L262.5 263.8 L263.5 249.2 L264.5 261.6 L265.5 248.0 L266.5 263.8 L267.5 243.5 L268.5 254.8 L269.5 250.3 L270.5 259.3 L271.5 246.9 L272.5 268.4 L274.0 279.7 L276.3 287.9 L278.6 296.7 L280.9 300.2 L282.0 286.2 L282.8 200.6 L283.9 247.7 L286.9 285.3 L288.2 208.6 L289.5 225.4 L290.8 232.2 L291.8 226.6 L292.5 234.5 L293.3 239.0" fill="none" stroke="#5e4a1a" stroke-width="1.9" stroke-linejoin="round" />
<path d="M296.2 297.6 L298.3 289.9 L300.4 286.8 L301.8 280.0 L303.2 279.4 L305.3 269.3 L307.4 251.0 L308.8 263.9 L310.2 264.5 L310.9 274.7 L311.6 280.0 L312.3 294.1 L313.7 286.8 L315.1 277.3 L316.5 282.7 L317.9 277.3 L319.3 276.0 L320.4 254.9 L321.4 266.6 L322.8 269.3 L324.2 252.5 L325.6 262.6 L327.0 251.0 L328.7 229.0 L329.8 244.3 L331.0 255.8 L331.9 267.9 L333.3 274.7 L334.7 277.3 L336.1 251.0 L336.8 275.0 L337.5 292.1 L338.9 282.7 L340.3 272.0 L341.7 263.9 L342.4 262.3 L343.1 269.3 L344.5 274.7 L345.9 278.7 L347.3 274.7 L349.4 265.9 L350.8 272.0 L352.2 276.0 L353.6 292.1 L355.0 285.4 L355.9 267.0 L357.8 282.7 L359.9 293.5 L361.3 296.2 L362.7 276.0 L363.6 243.2 L365.0 272.0 L366.7 287.5 L367.7 269.3 L368.6 243.9 L369.9 244.8 L371.3 248.2 L372.7 253.5 L374.1 260.3 L374.9 267.4 L375.5 292.1 L376.9 276.0 L378.3 278.7 L379.7 277.3 L381.1 281.4 L382.5 285.4 L383.9 290.8 L385.3 277.3 L386.4 272.6 L388.1 280.0 L390.2 288.1 L392.3 296.2 L394.8 300.2 L396.5 282.7 L397.9 260.6 L399.3 255.8 L400.0 253.5 L400.7 259.7 L401.4 263.5 L403.5 244.8 L405.6 254.9 L406.3 261.2 L407.7 265.4 L408.4 272.0 L409.8 263.5 L411.9 255.8 L413.3 251.5 L414.0 265.4 L414.7 292.1 L416.8 295.5 L418.2 296.2 L419.6 292.1 L421.0 294.8 L423.1 298.8 L425.2 299.5 L427.3 296.2 L428.0 246.1 L430.1 256.2 L432.2 259.7 L433.6 269.3 L434.3 277.3 L435.7 284.1 L437.1 289.4 L439.2 292.8 L441.3 294.8 L443.4 296.8 L444.8 295.5 L446.2 298.2 L447.6 293.5 L449.7 292.1 L451.8 286.8 L453.2 272.0 L454.6 286.8 L456.4 269.3 L458.1 278.7 L460.2 284.1 L461.6 288.1 L463.0 286.8 L465.1 292.1 L467.2 286.1 L468.6 292.1 L470.7 294.8 L472.1 290.8 L473.5 280.0 L474.9 285.4 L476.3 289.4 L477.7 291.5 L478.7 255.8 L479.3 238.6 L480.5 246.2 L481.5 253.0 L482.5 248.2 L483.5 259.7 L484.5 253.9 L485.5 265.4 L486.5 259.7 L487.5 273.1 L488.5 265.4 L489.5 275.0 L490.5 263.5 L491.5 273.1 L492.5 260.6 L493.5 269.3 L494.5 256.8 L495.5 267.4 L496.5 255.8 L497.5 269.3 L498.5 252.0 L499.5 261.6 L500.5 257.8 L501.5 265.4 L502.5 254.9 L503.5 273.1 L505.0 282.7 L507.3 289.7 L509.6 297.2 L511.9 300.2 L513.0 288.3 L513.8 219.6 L514.9 255.6 L517.9 287.5 L519.2 227.6 L520.5 236.6 L521.8 242.4 L522.8 237.6 L523.5 244.3 L524.3 248.2" fill="none" stroke="#5e4a1a" stroke-width="1.9" stroke-linejoin="round" />
<path d="M64.7 143.5 L66.8 135.5 L68.9 132.2 L70.3 125.3 L71.7 124.7 L73.8 115.2 L75.9 98.0 L77.3 110.1 L78.7 110.7 L79.4 120.3 L80.1 125.3 L80.8 139.9 L82.2 132.2 L83.6 122.8 L85.0 128.0 L86.4 122.8 L87.8 121.5 L88.9 101.6 L89.9 112.7 L91.3 115.2 L92.7 99.3 L94.1 108.9 L95.5 98.0 L97.2 77.2 L98.3 91.7 L99.5 102.5 L100.4 113.9 L101.8 120.3 L103.2 122.8 L104.6 98.0 L105.3 120.6 L106.0 137.8 L107.4 128.0 L108.8 117.7 L110.2 110.1 L110.9 108.6 L111.6 115.2 L113.0 120.3 L114.4 124.1 L115.8 120.3 L117.9 112.0 L119.3 117.7 L120.7 121.5 L122.1 137.8 L123.5 130.8 L124.4 113.0 L126.3 128.0 L128.4 139.2 L129.8 142.0 L131.2 121.5 L132.1 88.9 L133.5 117.7 L135.2 133.0 L136.2 115.2 L137.1 85.8 L138.4 92.1 L139.8 95.3 L141.2 100.3 L142.6 106.7 L143.4 113.4 L144.0 137.8 L145.4 121.5 L146.8 124.1 L148.2 122.8 L149.6 126.6 L151.0 130.8 L152.4 136.4 L153.8 122.8 L154.9 118.4 L156.6 125.3 L158.7 133.6 L160.8 142.0 L163.3 146.2 L165.0 128.0 L166.4 107.0 L167.8 102.5 L168.5 100.3 L169.2 106.1 L169.9 109.8 L172.0 92.1 L174.1 101.6 L174.8 107.6 L176.2 111.6 L176.9 117.7 L178.3 109.8 L180.4 102.5 L181.8 98.4 L182.5 111.6 L183.2 137.8 L185.3 141.3 L186.7 142.0 L188.1 137.8 L189.5 140.6 L191.6 144.8 L193.7 145.5 L195.8 142.0 L196.5 93.4 L198.6 102.9 L200.7 106.1 L202.1 115.2 L202.8 122.8 L204.2 129.4 L205.6 135.0 L207.7 138.5 L209.8 140.6 L211.9 142.7 L213.3 141.3 L214.7 144.1 L216.1 139.2 L218.2 137.8 L220.3 132.2 L221.7 117.7 L223.1 132.2 L224.9 115.2 L226.6 124.1 L228.7 129.4 L230.1 133.6 L231.5 132.2 L233.6 137.8 L235.7 131.5 L237.1 137.8 L239.2 140.6 L240.6 136.4 L242.0 125.3 L243.4 130.8 L244.8 135.0 L246.2 137.1 L247.2 102.5 L247.8 86.2 L249.0 93.5 L250.0 99.8 L251.0 95.3 L252.0 106.1 L253.0 100.7 L254.0 111.6 L255.0 106.1 L256.0 118.8 L257.0 111.6 L258.0 120.6 L259.0 109.8 L260.0 118.8 L261.0 107.0 L262.0 115.2 L263.0 103.4 L264.0 113.4 L265.0 102.5 L266.0 115.2 L267.0 98.9 L268.0 107.9 L269.0 104.3 L270.0 111.6 L271.0 101.6 L272.0 118.8 L273.5 128.0 L275.8 135.3 L278.1 143.1 L280.4 146.2 L281.5 133.8 L282.3 60.4 L283.4 102.2 L286.4 133.0 L287.7 44.1 L289.0 84.4 L290.3 89.8 L291.3 85.3 L292.0 91.7 L292.8 95.3" fill="none" stroke="#2614cf" stroke-width="1.9" stroke-linejoin="round" />
<path d="M295.7 143.5 L297.8 135.5 L299.9 132.2 L301.3 125.3 L302.7 124.7 L304.8 115.2 L306.9 95.3 L308.3 110.1 L309.7 110.7 L310.4 120.3 L311.1 125.3 L311.8 139.9 L313.2 132.2 L314.6 122.8 L316.0 128.0 L317.4 122.8 L318.8 121.5 L319.9 99.1 L320.9 112.7 L322.3 115.2 L323.7 92.7 L325.1 108.9 L326.5 98.0 L328.2 69.9 L329.3 91.7 L330.5 102.5 L331.4 113.9 L332.8 120.3 L334.2 122.8 L335.6 94.6 L336.3 120.6 L337.0 137.8 L338.4 128.0 L339.8 117.7 L341.2 110.1 L341.9 108.6 L342.6 115.2 L344.0 120.3 L345.4 124.1 L346.8 120.3 L348.9 112.0 L350.3 117.7 L351.7 121.5 L353.1 137.8 L354.5 130.8 L355.4 113.0 L357.3 128.0 L359.4 139.2 L360.8 142.0 L362.2 121.5 L363.1 78.8 L364.5 117.7 L366.2 133.0 L367.2 115.2 L368.1 83.2 L369.4 84.5 L370.8 95.3 L372.2 100.3 L373.6 106.7 L374.4 113.4 L375.0 137.8 L376.4 121.5 L377.8 124.1 L379.2 122.8 L380.6 126.6 L382.0 130.8 L383.4 136.4 L384.8 122.8 L385.9 118.4 L387.6 125.3 L389.7 133.6 L391.8 142.0 L394.3 146.2 L396.0 128.0 L397.4 107.0 L398.8 102.5 L399.5 100.3 L400.2 106.1 L400.9 109.8 L403.0 84.5 L405.1 101.6 L405.8 107.6 L407.2 111.6 L407.9 117.7 L409.3 109.8 L411.4 102.5 L412.8 92.7 L413.5 111.6 L414.2 137.8 L416.3 141.3 L417.7 142.0 L419.1 137.8 L420.5 140.6 L422.6 144.8 L424.7 145.5 L426.8 142.0 L427.5 87.7 L429.6 102.9 L431.7 106.1 L433.1 115.2 L433.8 122.8 L435.2 129.4 L436.6 135.0 L438.7 138.5 L440.8 140.6 L442.9 142.7 L444.3 141.3 L445.7 144.1 L447.1 139.2 L449.2 137.8 L451.3 132.2 L452.7 117.7 L454.1 132.2 L455.9 115.2 L457.6 124.1 L459.7 129.4 L461.1 133.6 L462.5 132.2 L464.6 137.8 L466.7 131.5 L468.1 137.8 L470.2 140.6 L471.6 136.4 L473.0 125.3 L474.4 130.8 L475.8 135.0 L477.2 137.1 L478.2 102.5 L478.8 77.5 L480.0 93.5 L481.0 99.8 L482.0 95.3 L483.0 106.1 L484.0 100.7 L485.0 111.6 L486.0 106.1 L487.0 118.8 L488.0 111.6 L489.0 120.6 L490.0 109.8 L491.0 118.8 L492.0 107.0 L493.0 115.2 L494.0 103.4 L495.0 113.4 L496.0 102.5 L497.0 115.2 L498.0 98.9 L499.0 107.9 L500.0 104.3 L501.0 111.6 L502.0 101.6 L503.0 118.8 L504.5 128.0 L506.8 135.3 L509.1 143.1 L511.4 146.2 L512.5 133.8 L513.3 50.8 L514.4 102.2 L517.4 133.0 L518.7 27.0 L520.0 84.4 L521.3 89.8 L522.3 85.3 L523.0 91.7 L523.8 95.3" fill="none" stroke="#2614cf" stroke-width="1.9" stroke-linejoin="round" />
<path d="M64.7 297.2 L66.8 288.1 L68.9 284.4 L70.3 276.9 L71.7 276.2 L73.8 265.4 L75.9 246.0 L77.3 259.7 L78.7 260.3 L79.4 271.1 L80.1 276.9 L80.8 293.1 L82.2 284.4 L83.6 274.0 L85.0 279.7 L86.4 274.0 L87.8 272.6 L88.9 250.1 L89.9 262.6 L91.3 265.4 L92.7 247.5 L94.1 258.3 L95.5 246.0 L97.2 223.9 L98.3 238.8 L99.5 251.1 L100.4 264.0 L101.8 271.1 L103.2 274.0 L104.6 246.0 L105.3 271.6 L106.0 290.7 L107.4 279.7 L108.8 268.3 L110.2 259.7 L110.9 258.0 L111.6 265.4 L113.0 271.1 L114.4 275.4 L115.8 271.1 L117.9 261.8 L119.3 268.3 L120.7 272.6 L122.1 290.7 L123.5 282.8 L124.4 263.0 L126.3 279.7 L128.4 292.3 L129.8 295.5 L131.2 272.6 L132.1 225.7 L133.5 268.3 L135.2 285.3 L136.2 265.4 L137.1 242.9 L138.4 235.7 L139.8 242.9 L141.2 248.7 L142.6 255.8 L143.4 263.4 L144.0 290.7 L145.4 272.6 L146.8 275.4 L148.2 274.0 L149.6 278.3 L151.0 282.8 L152.4 289.2 L153.8 274.0 L154.9 269.0 L156.6 276.9 L158.7 286.0 L160.8 295.5 L163.3 300.2 L165.0 279.7 L166.4 256.2 L167.8 251.1 L168.5 248.7 L169.2 255.2 L169.9 259.3 L172.0 233.4 L174.1 250.1 L174.8 256.8 L176.2 261.3 L176.9 268.3 L178.3 259.3 L180.4 251.1 L181.8 246.5 L182.5 261.3 L183.2 290.7 L185.3 294.7 L186.7 295.5 L188.1 290.7 L189.5 293.9 L191.6 298.6 L193.7 299.4 L195.8 295.5 L196.5 240.8 L198.6 251.5 L200.7 255.2 L202.1 265.4 L202.8 274.0 L204.2 281.2 L205.6 287.6 L207.7 291.5 L209.8 293.9 L211.9 296.3 L213.3 294.7 L214.7 297.9 L216.1 292.3 L218.2 290.7 L220.3 284.4 L221.7 268.3 L223.1 284.4 L224.9 265.4 L226.6 275.4 L228.7 281.2 L230.1 286.0 L231.5 284.4 L233.6 290.7 L235.7 283.6 L237.1 290.7 L239.2 293.9 L240.6 289.2 L242.0 276.9 L243.4 282.8 L244.8 287.6 L246.2 289.9 L247.2 251.1 L247.8 232.7 L249.0 240.9 L250.0 248.0 L251.0 242.9 L252.0 255.2 L253.0 249.1 L254.0 261.3 L255.0 255.2 L256.0 269.5 L257.0 261.3 L258.0 271.6 L259.0 259.3 L260.0 269.5 L261.0 256.2 L262.0 265.4 L263.0 252.1 L264.0 263.4 L265.0 251.1 L266.0 265.4 L267.0 247.0 L268.0 257.2 L269.0 253.2 L270.0 261.3 L271.0 250.1 L272.0 269.5 L273.5 279.7 L275.8 287.9 L278.1 296.7 L280.4 300.2 L281.5 286.2 L282.3 201.2 L283.4 250.8 L286.4 285.3 L287.7 209.2 L289.0 230.7 L290.3 236.8 L291.3 231.7 L292.0 238.8 L292.8 242.9" fill="none" stroke="#2614cf" stroke-width="1.9" stroke-linejoin="round" />
<path d="M295.7 297.6 L297.8 289.9 L299.9 286.8 L301.3 280.1 L302.7 279.5 L304.8 270.3 L306.9 253.8 L308.3 265.5 L309.7 266.0 L310.4 275.2 L311.1 280.1 L311.8 294.1 L313.2 286.8 L314.6 277.6 L316.0 282.7 L317.4 277.6 L318.8 276.4 L319.9 257.3 L320.9 267.9 L322.3 270.3 L323.7 255.1 L325.1 264.3 L326.5 253.8 L328.2 233.9 L329.3 247.8 L330.5 258.2 L331.4 269.1 L332.8 275.2 L334.2 277.6 L335.6 253.8 L336.3 275.6 L337.0 292.1 L338.4 282.7 L339.8 272.8 L341.2 265.5 L341.9 264.0 L342.6 270.3 L344.0 275.2 L345.4 278.9 L346.8 275.2 L348.9 267.3 L350.3 272.8 L351.7 276.4 L353.1 292.1 L354.5 285.4 L355.4 268.3 L357.3 282.7 L359.4 293.5 L360.8 296.2 L362.2 276.4 L363.1 246.7 L364.5 272.8 L366.2 287.5 L367.2 270.3 L368.1 247.4 L369.4 248.2 L370.8 251.2 L372.2 256.1 L373.6 262.2 L374.4 268.6 L375.0 292.1 L376.4 276.4 L377.8 278.9 L379.2 277.6 L380.6 281.4 L382.0 285.4 L383.4 290.8 L384.8 277.6 L385.9 273.4 L387.6 280.1 L389.7 288.1 L391.8 296.2 L394.3 300.2 L396.0 282.7 L397.4 262.5 L398.8 258.2 L399.5 256.1 L400.2 261.7 L400.9 265.1 L403.0 248.2 L405.1 257.3 L405.8 263.0 L407.2 266.9 L407.9 272.8 L409.3 265.1 L411.4 258.2 L412.8 254.3 L413.5 266.9 L414.2 292.1 L416.3 295.5 L417.7 296.2 L419.1 292.1 L420.5 294.8 L422.6 298.8 L424.7 299.5 L426.8 296.2 L427.5 249.4 L429.6 258.5 L431.7 261.7 L433.1 270.3 L433.8 277.6 L435.2 284.1 L436.6 289.4 L438.7 292.8 L440.8 294.8 L442.9 296.8 L444.3 295.5 L445.7 298.2 L447.1 293.5 L449.2 292.1 L451.3 286.8 L452.7 272.8 L454.1 286.8 L455.9 270.3 L457.6 278.9 L459.7 284.1 L461.1 288.1 L462.5 286.8 L464.6 292.1 L466.7 286.1 L468.1 292.1 L470.2 294.8 L471.6 290.8 L473.0 280.1 L474.4 285.4 L475.8 289.4 L477.2 291.5 L478.2 258.2 L478.8 242.5 L480.0 249.5 L481.0 255.6 L482.0 251.2 L483.0 261.7 L484.0 256.4 L485.0 266.9 L486.0 261.7 L487.0 273.8 L488.0 266.9 L489.0 275.6 L490.0 265.1 L491.0 273.8 L492.0 262.5 L493.0 270.3 L494.0 259.1 L495.0 268.6 L496.0 258.2 L497.0 270.3 L498.0 254.7 L499.0 263.4 L500.0 259.9 L501.0 266.9 L502.0 257.3 L503.0 273.8 L504.5 282.7 L506.8 289.7 L509.1 297.2 L511.4 300.2 L512.5 288.3 L513.3 220.2 L514.4 257.9 L517.4 287.5 L518.7 228.2 L520.0 240.8 L521.3 246.0 L522.3 241.7 L523.0 247.8 L523.8 251.2" fill="none" stroke="#2614cf" stroke-width="1.9" stroke-linejoin="round" />
<rect x="64.5" y="14.5" width="462.0" height="308.0" fill="none" stroke="#222" stroke-width="1.1"/>
<line x1="295.5" y1="14.5" x2="295.5" y2="322.5" stroke="#222" stroke-width="1.1"/>
<line x1="64.5" y1="168.5" x2="526.5" y2="168.5" stroke="#333" stroke-width="1.1"/>
<path d="M64.50 322.50v-4.20 M64.50 14.50v4.20 M64.50 168.50v-4.20 M64.50 168.50v4.20 M76.05 322.50v-2.60 M76.05 14.50v2.60 M76.05 168.50v-2.60 M76.05 168.50v2.60 M87.60 322.50v-2.60 M87.60 14.50v2.60 M87.60 168.50v-2.60 M87.60 168.50v2.60 M99.15 322.50v-2.60 M99.15 14.50v2.60 M99.15 168.50v-2.60 M99.15 168.50v2.60 M110.70 322.50v-2.60 M110.70 14.50v2.60 M110.70 168.50v-2.60 M110.70 168.50v2.60 M122.25 322.50v-4.20 M122.25 14.50v4.20 M122.25 168.50v-4.20 M122.25 168.50v4.20 M133.80 322.50v-2.60 M133.80 14.50v2.60 M133.80 168.50v-2.60 M133.80 168.50v2.60 M145.35 322.50v-2.60 M145.35 14.50v2.60 M145.35 168.50v-2.60 M145.35 168.50v2.60 M156.90 322.50v-2.60 M156.90 14.50v2.60 M156.90 168.50v-2.60 M156.90 168.50v2.60 M168.45 322.50v-2.60 M168.45 14.50v2.60 M168.45 168.50v-2.60 M168.45 168.50v2.60 M180.00 322.50v-4.20 M180.00 14.50v4.20 M180.00 168.50v-4.20 M180.00 168.50v4.20 M191.55 322.50v-2.60 M191.55 14.50v2.60 M191.55 168.50v-2.60 M191.55 168.50v2.60 M203.10 322.50v-2.60 M203.10 14.50v2.60 M203.10 168.50v-2.60 M203.10 168.50v2.60 M214.65 322.50v-2.60 M214.65 14.50v2.60 M214.65 168.50v-2.60 M214.65 168.50v2.60 M226.20 322.50v-2.60 M226.20 14.50v2.60 M226.20 168.50v-2.60 M226.20 168.50v2.60 M237.75 322.50v-4.20 M237.75 14.50v4.20 M237.75 168.50v-4.20 M237.75 168.50v4.20 M249.30 322.50v-2.60 M249.30 14.50v2.60 M249.30 168.50v-2.60 M249.30 168.50v2.60 M260.85 322.50v-2.60 M260.85 14.50v2.60 M260.85 168.50v-2.60 M260.85 168.50v2.60 M272.40 322.50v-2.60 M272.40 14.50v2.60 M272.40 168.50v-2.60 M272.40 168.50v2.60 M283.95 322.50v-2.60 M283.95 14.50v2.60 M283.95 168.50v-2.60 M283.95 168.50v2.60 M295.50 322.50v-4.20 M295.50 14.50v4.20 M295.50 168.50v-4.20 M295.50 168.50v4.20 M295.50 322.50v-4.20 M295.50 14.50v4.20 M295.50 168.50v-4.20 M295.50 168.50v4.20 M307.05 322.50v-2.60 M307.05 14.50v2.60 M307.05 168.50v-2.60 M307.05 168.50v2.60 M318.60 322.50v-2.60 M318.60 14.50v2.60 M318.60 168.50v-2.60 M318.60 168.50v2.60 M330.15 322.50v-2.60 M330.15 14.50v2.60 M330.15 168.50v-2.60 M330.15 168.50v2.60 M341.70 322.50v-2.60 M341.70 14.50v2.60 M341.70 168.50v-2.60 M341.70 168.50v2.60 M353.25 322.50v-4.20 M353.25 14.50v4.20 M353.25 168.50v-4.20 M353.25 168.50v4.20 M364.80 322.50v-2.60 M364.80 14.50v2.60 M364.80 168.50v-2.60 M364.80 168.50v2.60 M376.35 322.50v-2.60 M376.35 14.50v2.60 M376.35 168.50v-2.60 M376.35 168.50v2.60 M387.90 322.50v-2.60 M387.90 14.50v2.60 M387.90 168.50v-2.60 M387.90 168.50v2.60 M399.45 322.50v-2.60 M399.45 14.50v2.60 M399.45 168.50v-2.60 M399.45 168.50v2.60 M411.00 322.50v-4.20 M411.00 14.50v4.20 M411.00 168.50v-4.20 M411.00 168.50v4.20 M422.55 322.50v-2.60 M422.55 14.50v2.60 M422.55 168.50v-2.60 M422.55 168.50v2.60 M434.10 322.50v-2.60 M434.10 14.50v2.60 M434.10 168.50v-2.60 M434.10 168.50v2.60 M445.65 322.50v-2.60 M445.65 14.50v2.60 M445.65 168.50v-2.60 M445.65 168.50v2.60 M457.20 322.50v-2.60 M457.20 14.50v2.60 M457.20 168.50v-2.60 M457.20 168.50v2.60 M468.75 322.50v-4.20 M468.75 14.50v4.20 M468.75 168.50v-4.20 M468.75 168.50v4.20 M480.30 322.50v-2.60 M480.30 14.50v2.60 M480.30 168.50v-2.60 M480.30 168.50v2.60 M491.85 322.50v-2.60 M491.85 14.50v2.60 M491.85 168.50v-2.60 M491.85 168.50v2.60 M503.40 322.50v-2.60 M503.40 14.50v2.60 M503.40 168.50v-2.60 M503.40 168.50v2.60 M514.95 322.50v-2.60 M514.95 14.50v2.60 M514.95 168.50v-2.60 M514.95 168.50v2.60 M526.50 322.50v-4.20 M526.50 14.50v4.20 M526.50 168.50v-4.20 M526.50 168.50v4.20 M64.50 168.50h4.20 M526.50 168.50h-4.20 M295.50 168.50h-4.20 M295.50 168.50h4.20 M64.50 160.80h2.60 M526.50 160.80h-2.60 M295.50 160.80h-2.60 M295.50 160.80h2.60 M64.50 153.10h2.60 M526.50 153.10h-2.60 M295.50 153.10h-2.60 M295.50 153.10h2.60 M64.50 145.40h2.60 M526.50 145.40h-2.60 M295.50 145.40h-2.60 M295.50 145.40h2.60 M64.50 137.70h2.60 M526.50 137.70h-2.60 M295.50 137.70h-2.60 M295.50 137.70h2.60 M64.50 130.00h4.20 M526.50 130.00h-4.20 M295.50 130.00h-4.20 M295.50 130.00h4.20 M64.50 122.30h2.60 M526.50 122.30h-2.60 M295.50 122.30h-2.60 M295.50 122.30h2.60 M64.50 114.60h2.60 M526.50 114.60h-2.60 M295.50 114.60h-2.60 M295.50 114.60h2.60 M64.50 106.90h2.60 M526.50 106.90h-2.60 M295.50 106.90h-2.60 M295.50 106.90h2.60 M64.50 99.20h2.60 M526.50 99.20h-2.60 M295.50 99.20h-2.60 M295.50 99.20h2.60 M64.50 91.50h4.20 M526.50 91.50h-4.20 M295.50 91.50h-4.20 M295.50 91.50h4.20 M64.50 83.80h2.60 M526.50 83.80h-2.60 M295.50 83.80h-2.60 M295.50 83.80h2.60 M64.50 76.10h2.60 M526.50 76.10h-2.60 M295.50 76.10h-2.60 M295.50 76.10h2.60 M64.50 68.40h2.60 M526.50 68.40h-2.60 M295.50 68.40h-2.60 M295.50 68.40h2.60 M64.50 60.70h2.60 M526.50 60.70h-2.60 M295.50 60.70h-2.60 M295.50 60.70h2.60 M64.50 53.00h4.20 M526.50 53.00h-4.20 M295.50 53.00h-4.20 M295.50 53.00h4.20 M64.50 45.30h2.60 M526.50 45.30h-2.60 M295.50 45.30h-2.60 M295.50 45.30h2.60 M64.50 37.60h2.60 M526.50 37.60h-2.60 M295.50 37.60h-2.60 M295.50 37.60h2.60 M64.50 29.90h2.60 M526.50 29.90h-2.60 M295.50 29.90h-2.60 M295.50 29.90h2.60 M64.50 22.20h2.60 M526.50 22.20h-2.60 M295.50 22.20h-2.60 M295.50 22.20h2.60 M64.50 14.50h4.20 M526.50 14.50h-4.20 M295.50 14.50h-4.20 M295.50 14.50h4.20 M64.50 322.50h4.20 M526.50 322.50h-4.20 M295.50 322.50h-4.20 M295.50 322.50h4.20 M64.50 314.80h2.60 M526.50 314.80h-2.60 M295.50 314.80h-2.60 M295.50 314.80h2.60 M64.50 307.10h2.60 M526.50 307.10h-2.60 M295.50 307.10h-2.60 M295.50 307.10h2.60 M64.50 299.40h2.60 M526.50 299.40h-2.60 M295.50 299.40h-2.60 M295.50 299.40h2.60 M64.50 291.70h2.60 M526.50 291.70h-2.60 M295.50 291.70h-2.60 M295.50 291.70h2.60 M64.50 284.00h4.20 M526.50 284.00h-4.20 M295.50 284.00h-4.20 M295.50 284.00h4.20 M64.50 276.30h2.60 M526.50 276.30h-2.60 M295.50 276.30h-2.60 M295.50 276.30h2.60 M64.50 268.60h2.60 M526.50 268.60h-2.60 M295.50 268.60h-2.60 M295.50 268.60h2.60 M64.50 260.90h2.60 M526.50 260.90h-2.60 M295.50 260.90h-2.60 M295.50 260.90h2.60 M64.50 253.20h2.60 M526.50 253.20h-2.60 M295.50 253.20h-2.60 M295.50 253.20h2.60 M64.50 245.50h4.20 M526.50 245.50h-4.20 M295.50 245.50h-4.20 M295.50 245.50h4.20 M64.50 237.80h2.60 M526.50 237.80h-2.60 M295.50 237.80h-2.60 M295.50 237.80h2.60 M64.50 230.10h2.60 M526.50 230.10h-2.60 M295.50 230.10h-2.60 M295.50 230.10h2.60 M64.50 222.40h2.60 M526.50 222.40h-2.60 M295.50 222.40h-2.60 M295.50 222.40h2.60 M64.50 214.70h2.60 M526.50 214.70h-2.60 M295.50 214.70h-2.60 M295.50 214.70h2.60 M64.50 207.00h4.20 M526.50 207.00h-4.20 M295.50 207.00h-4.20 M295.50 207.00h4.20 M64.50 199.30h2.60 M526.50 199.30h-2.60 M295.50 199.30h-2.60 M295.50 199.30h2.60 M64.50 191.60h2.60 M526.50 191.60h-2.60 M295.50 191.60h-2.60 M295.50 191.60h2.60 M64.50 183.90h2.60 M526.50 183.90h-2.60 M295.50 183.90h-2.60 M295.50 183.90h2.60 M64.50 176.20h2.60 M526.50 176.20h-2.60 M295.50 176.20h-2.60 M295.50 176.20h2.60 M64.50 168.50h4.20 M526.50 168.50h-4.20 M295.50 168.50h-4.20 M295.50 168.50h4.20" stroke="#222" stroke-width="1" fill="none"/>
<path d="M64.5 146.5V167.9 M64.5 300.5V321.9 M295.5 300.5V321.9" stroke="#b4b4b4" stroke-width="1.15" fill="none"/>
<text x="56.60" y="174.00" text-anchor="end" font-size="16" fill="#111" stroke="#111" textLength="7.45" lengthAdjust="spacingAndGlyphs">0</text>
<text x="56.60" y="135.50" text-anchor="end" font-size="16" fill="#111" stroke="#111" textLength="14.90" lengthAdjust="spacingAndGlyphs">50</text>
<text x="56.60" y="97.00" text-anchor="end" font-size="16" fill="#111" stroke="#111" textLength="22.35" lengthAdjust="spacingAndGlyphs">100</text>
<text x="56.60" y="58.50" text-anchor="end" font-size="16" fill="#111" stroke="#111" textLength="22.35" lengthAdjust="spacingAndGlyphs">150</text>
<text x="56.60" y="20.00" text-anchor="end" font-size="16" fill="#111" stroke="#111" textLength="22.35" lengthAdjust="spacingAndGlyphs">200</text>
<text x="56.60" y="328.00" text-anchor="end" font-size="16" fill="#111" stroke="#111" textLength="7.45" lengthAdjust="spacingAndGlyphs">0</text>
<text x="56.60" y="289.50" text-anchor="end" font-size="16" fill="#111" stroke="#111" textLength="14.90" lengthAdjust="spacingAndGlyphs">50</text>
<text x="56.60" y="251.00" text-anchor="end" font-size="16" fill="#111" stroke="#111" textLength="22.35" lengthAdjust="spacingAndGlyphs">100</text>
<text x="56.60" y="212.50" text-anchor="end" font-size="16" fill="#111" stroke="#111" textLength="22.35" lengthAdjust="spacingAndGlyphs">150</text>
<text x="64.50" y="345.60" text-anchor="middle" font-size="16" fill="#111" stroke="#111" textLength="7.45" lengthAdjust="spacingAndGlyphs">0</text>
<text x="122.25" y="345.60" text-anchor="middle" font-size="16" fill="#111" stroke="#111" textLength="29.80" lengthAdjust="spacingAndGlyphs">4000</text>
<text x="180.00" y="345.60" text-anchor="middle" font-size="16" fill="#111" stroke="#111" textLength="29.80" lengthAdjust="spacingAndGlyphs">8000</text>
<text x="237.75" y="345.60" text-anchor="middle" font-size="16" fill="#111" stroke="#111" textLength="37.25" lengthAdjust="spacingAndGlyphs">12000</text>
<text x="180.00" y="375.40" text-anchor="middle" font-size="15.4" fill="#111" stroke="#111" textLength="53.4" lengthAdjust="spacingAndGlyphs">Time (s)</text>
<text x="295.50" y="345.60" text-anchor="middle" font-size="16" fill="#111" stroke="#111" textLength="7.45" lengthAdjust="spacingAndGlyphs">0</text>
<text x="353.25" y="345.60" text-anchor="middle" font-size="16" fill="#111" stroke="#111" textLength="29.80" lengthAdjust="spacingAndGlyphs">4000</text>
<text x="411.00" y="345.60" text-anchor="middle" font-size="16" fill="#111" stroke="#111" textLength="29.80" lengthAdjust="spacingAndGlyphs">8000</text>
<text x="468.75" y="345.60" text-anchor="middle" font-size="16" fill="#111" stroke="#111" textLength="37.25" lengthAdjust="spacingAndGlyphs">12000</text>
<text x="526.50" y="345.60" text-anchor="middle" font-size="16" fill="#111" stroke="#111" textLength="37.25" lengthAdjust="spacingAndGlyphs">16000</text>
<text x="411.00" y="375.40" text-anchor="middle" font-size="15.4" fill="#111" stroke="#111" textLength="53.4" lengthAdjust="spacingAndGlyphs">Time (s)</text>
<text transform="translate(22.9 176.3) rotate(-90)" text-anchor="middle" font-size="15.8" fill="#111" stroke="#111" textLength="218" lengthAdjust="spacingAndGlyphs">Temperature (°C) / speed (km/h)</text>
<text x="82.80" y="31.30" font-size="15.4" fill="#111" stroke="#111">T<tspan font-size="9.8" dy="5.3">1</tspan></text>
<text x="313.80" y="31.30" font-size="15.4" fill="#111" stroke="#111">T<tspan font-size="9.8" dy="5.3">2</tspan></text>
<text x="82.80" y="185.30" font-size="15.4" fill="#111" stroke="#111">T<tspan font-size="9.8" dy="5.3">3</tspan></text>
<text x="313.80" y="185.30" font-size="15.4" fill="#111" stroke="#111">T<tspan font-size="9.8" dy="5.3">4</tspan></text>
<text x="220" y="33.7" font-size="15.6" fill="#54432c" stroke="#54432c">900 m<tspan font-size="10" dy="-7">3</tspan><tspan dy="7">/h</tspan></text>
<text x="448" y="33.2" font-size="15.6" fill="#2c2496" stroke="#2c2496">1200 m<tspan font-size="10" dy="-7">3</tspan><tspan dy="7">/h</tspan></text>
<text x="226" y="207.5" font-size="15.8" fill="#b4b4b4" stroke="#b4b4b4" textLength="37.5" lengthAdjust="spacingAndGlyphs">speed</text>
<path d="M265.5 35.5L287.3 46.7" stroke="#6b5a3a" stroke-width="1" fill="none"/>
<path d="M501.8 34.9L518.2 43.5" stroke="#3c3ca0" stroke-width="1" fill="none"/>
<path d="M257.3 209L271.8 235.2" stroke="#c4c4c4" stroke-width="1" fill="none"/>
</svg>
</body></html>
